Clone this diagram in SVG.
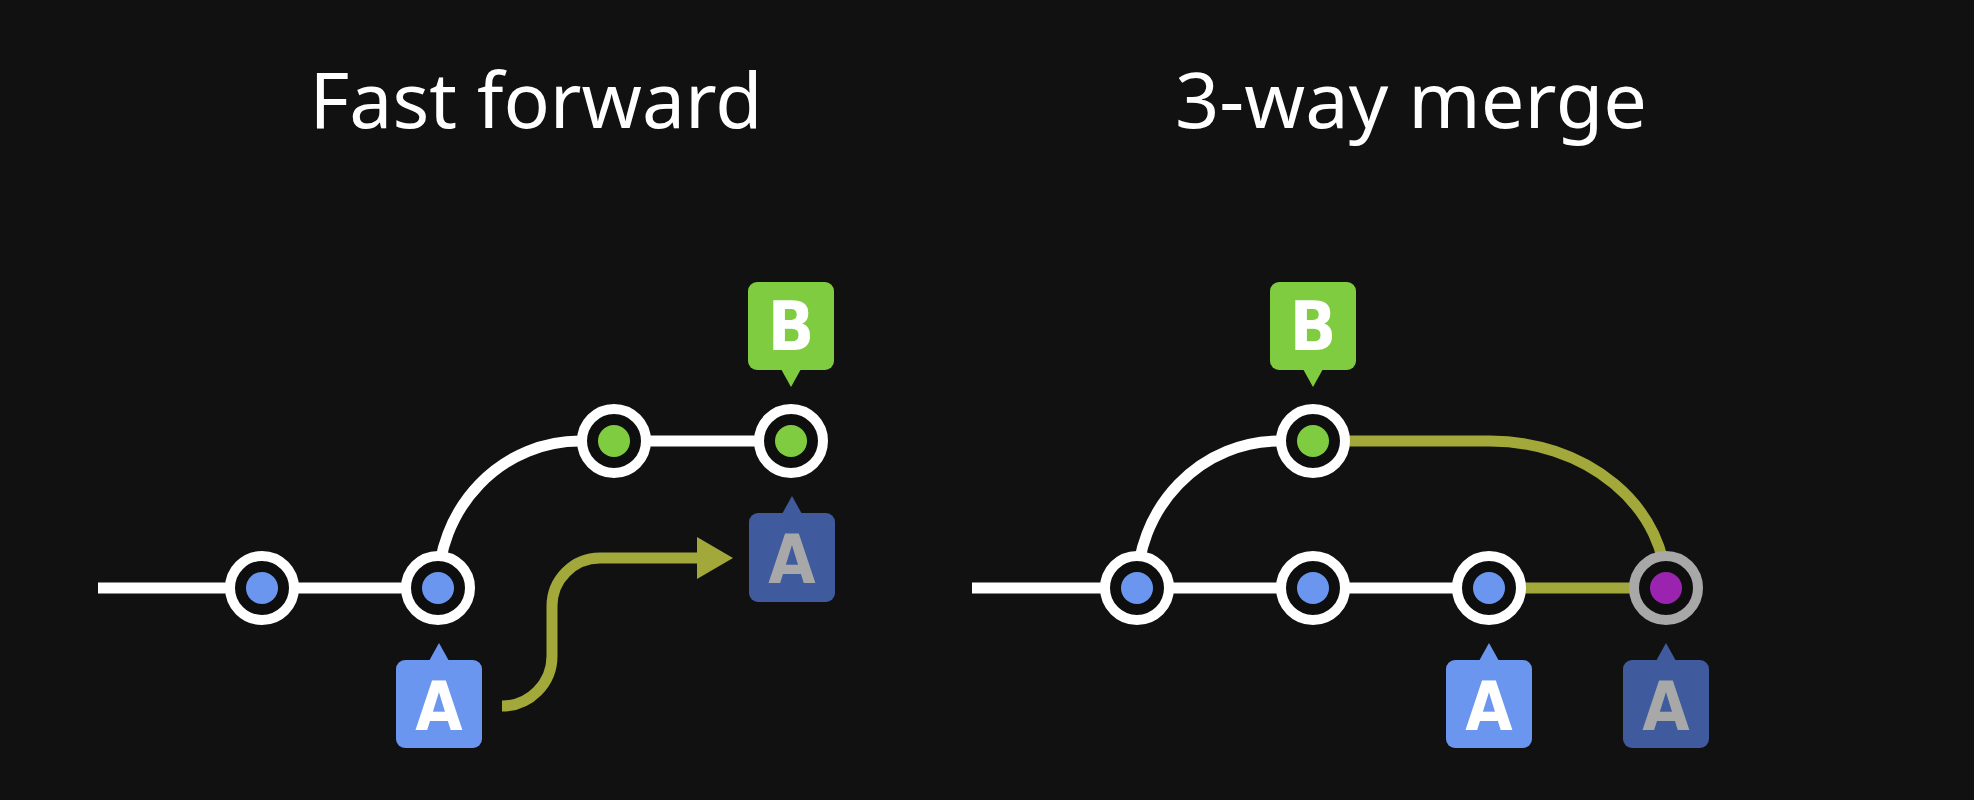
<svg xmlns="http://www.w3.org/2000/svg" width="1974" height="800" viewBox="0 0 1974 800">
<defs>
<style>
.title{font-family:"Noto Sans","Open Sans","DejaVu Sans",sans-serif;font-size:76px;fill:#ffffff;text-anchor:middle}
.lbl{font-family:"DejaVu Sans Condensed","DejaVu Sans","Roboto",sans-serif;font-weight:bold;font-size:68px;text-anchor:middle}
.line{fill:none;stroke:#ffffff;stroke-width:11}
.merge{fill:none;stroke:#a3a83a;stroke-width:11}
.ring{fill:#0e0e0e;stroke:#ffffff;stroke-width:10}
.ring-gray{fill:#0e0e0e;stroke:#a8a8a8;stroke-width:10}
.dot-blue{fill:#6b96f0}
.dot-green{fill:#80cc40}
.dot-purple{fill:#9a24b0}
.tag-green{fill:#80cc40}
.tag-blue{fill:#6b96f0}
.tag-faded{fill:#3f5b9e}
.txt-white{fill:#ffffff}
.txt-gray{fill:#a8a8a8}
</style>
<marker id="arrow" viewBox="0 0 36 42" refX="0" refY="21" markerWidth="36" markerHeight="42" markerUnits="userSpaceOnUse" orient="auto">
<polygon points="0,0 36,21 0,42" fill="#a3a83a"/>
</marker>
</defs>
<rect width="1974" height="800" fill="#111111"/>

<text class="title" x="536" y="128" textLength="453" lengthAdjust="spacingAndGlyphs">Fast forward</text>
<text class="title" x="1411" y="128" textLength="472" lengthAdjust="spacingAndGlyphs">3-way merge</text>

<g id="connectors">
<path class="line" d="M98,588 L438,588"/>
<path class="line" d="M438,588 A142,147 0 0 1 580,441 L791,441"/>
<path class="merge" d="M502,706 A50,50 0 0 0 552,656 L552,606 A48,48 0 0 1 600,558 L697,558" marker-end="url(#arrow)"/>
<path class="line" d="M972,588 L1489,588"/>
<path class="line" d="M1137,588 A142,147 0 0 1 1279,441 L1313,441"/>
<path class="merge" d="M1313,441 L1490,441 A176,147 0 0 1 1666,588"/>
<path class="merge" d="M1489,588 L1666,588"/>
</g>

<g id="ff-c1"><circle class="ring" cx="262" cy="588" r="32"/><circle class="dot-blue" cx="262" cy="588" r="16"/></g>
<g id="ff-c2"><circle class="ring" cx="438" cy="588" r="32"/><circle class="dot-blue" cx="438" cy="588" r="16"/></g>
<g id="ff-c3"><circle class="ring" cx="614" cy="441" r="32"/><circle class="dot-green" cx="614" cy="441" r="16"/></g>
<g id="ff-c4"><circle class="ring" cx="791" cy="441" r="32"/><circle class="dot-green" cx="791" cy="441" r="16"/></g>

<g id="ff-tag-b">
<rect class="tag-green" x="748" y="282" width="86" height="88" rx="9"/>
<polygon class="tag-green" points="781,369 801,369 791,387"/>
<text class="lbl txt-white" x="791" y="350">B</text>
</g>
<g id="ff-tag-a">
<rect class="tag-blue" x="396" y="660" width="86" height="88" rx="9"/>
<polygon class="tag-blue" points="429,661 449,661 439,643"/>
<text class="lbl txt-white" x="439" y="730">A</text>
</g>
<g id="ff-tag-a-new">
<rect class="tag-faded" x="749" y="513" width="86" height="89" rx="9"/>
<polygon class="tag-faded" points="782,514 802,514 792,496"/>
<text class="lbl txt-gray" x="792" y="583">A</text>
</g>

<g id="tw-c1"><circle class="ring" cx="1137" cy="588" r="32"/><circle class="dot-blue" cx="1137" cy="588" r="16"/></g>
<g id="tw-c2"><circle class="ring" cx="1313" cy="588" r="32"/><circle class="dot-blue" cx="1313" cy="588" r="16"/></g>
<g id="tw-c3"><circle class="ring" cx="1489" cy="588" r="32"/><circle class="dot-blue" cx="1489" cy="588" r="16"/></g>
<g id="tw-c4"><circle class="ring-gray" cx="1666" cy="588" r="32"/><circle class="dot-purple" cx="1666" cy="588" r="16"/></g>
<g id="tw-c5"><circle class="ring" cx="1313" cy="441" r="32"/><circle class="dot-green" cx="1313" cy="441" r="16"/></g>

<g id="tw-tag-b">
<rect class="tag-green" x="1270" y="282" width="86" height="88" rx="9"/>
<polygon class="tag-green" points="1303,369 1323,369 1313,387"/>
<text class="lbl txt-white" x="1313" y="350">B</text>
</g>
<g id="tw-tag-a">
<rect class="tag-blue" x="1446" y="660" width="86" height="88" rx="9"/>
<polygon class="tag-blue" points="1479,661 1499,661 1489,643"/>
<text class="lbl txt-white" x="1489" y="730">A</text>
</g>
<g id="tw-tag-a-new">
<rect class="tag-faded" x="1623" y="660" width="86" height="88" rx="9"/>
<polygon class="tag-faded" points="1656,661 1676,661 1666,643"/>
<text class="lbl txt-gray" x="1666" y="730">A</text>
</g>
</svg>
